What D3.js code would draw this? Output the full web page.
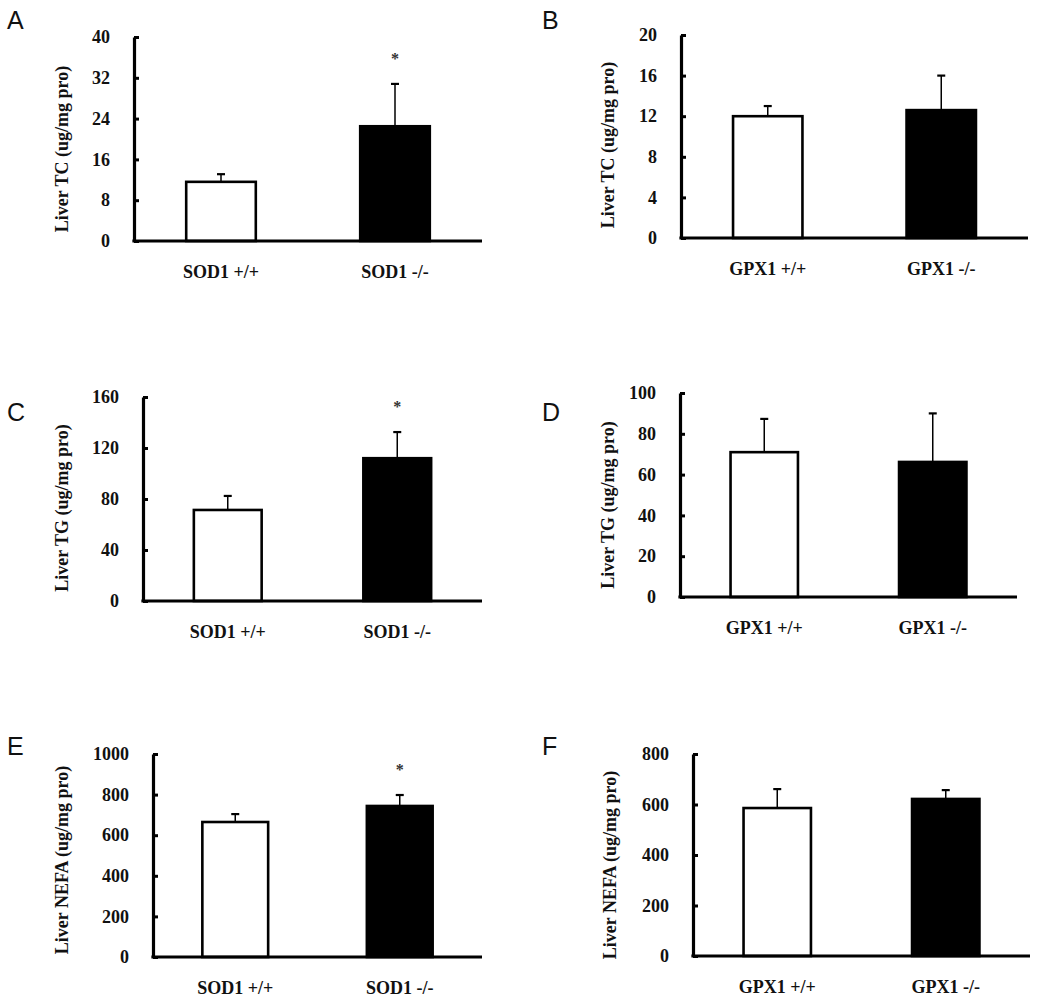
<!DOCTYPE html>
<html>
<head>
<meta charset="utf-8">
<script src="https://cdn.jsdelivr.net/npm/d3@7"></script>
<style>
  html, body { margin: 0; padding: 0; background: #fff; }
  svg { display: block; }
  .tick text { font-family: "Liberation Serif", "Times New Roman", serif; font-weight: bold; }
</style>
</head>
<body>
<svg id="chart" width="1050" height="1003"></svg>
<script>
// ---------- data ----------
const categoriesSOD = ["SOD1 +/+", "SOD1 -/-"];
const categoriesGPX = ["GPX1 +/+", "GPX1 -/-"];

const meansA = [11.6, 22.5];   const sdA = [1.5, 8.3];
const meansB = [12.0, 12.6];   const sdB = [1.0, 3.4];
const meansC = [71.4, 112];    const sdC = [11, 20.5];
const meansD = [71, 66.2];     const sdD = [16.3, 23.8];
const meansE = [665, 744];     const sdE = [39, 54];
const meansF = [586, 622];     const sdF = [75, 35];

const ticksA = [0, 8, 16, 24, 32, 40];
const ticksB = [0, 4, 8, 12, 16, 20];
const ticksC = [0, 40, 80, 120, 160];
const ticksD = [0, 20, 40, 60, 80, 100];
const ticksE = [0, 200, 400, 600, 800, 1000];
const ticksF = [0, 200, 400, 600, 800];

const starsA = [false, true];
const starsB = [false, false];
const starsC = [false, true];
const starsD = [false, false];
const starsE = [false, true];
const starsF = [false, false];

const titleTC = "Liver TC (ug/mg pro)";
const titleTG = "Liver TG (ug/mg pro)";
const titleNEFA = "Liver NEFA (ug/mg pro)";

const barFills = ["#ffffff", "#000000"];

// ---------- layout ----------
const panels = [
  { letter: "A", cats: categoriesSOD, means: meansA, sd: sdA, ticks: ticksA, stars: starsA, title: titleTC,
    x0: 134, x1: 482, yTop: 37, y0: 241, letterX: 7, letterY: 29, titleX: 62, titleY: 149 },
  { letter: "B", cats: categoriesGPX, means: meansB, sd: sdB, ticks: ticksB, stars: starsB, title: titleTC,
    x0: 681, x1: 1028, yTop: 35, y0: 238, letterX: 542, letterY: 29, titleX: 608, titleY: 145 },
  { letter: "C", cats: categoriesSOD, means: meansC, sd: sdC, ticks: ticksC, stars: starsC, title: titleTG,
    x0: 143, x1: 482, yTop: 397, y0: 601, letterX: 7, letterY: 421, titleX: 62, titleY: 508 },
  { letter: "D", cats: categoriesGPX, means: meansD, sd: sdD, ticks: ticksD, stars: starsD, title: titleTG,
    x0: 680, x1: 1017, yTop: 393, y0: 597, letterX: 542, letterY: 421, titleX: 608, titleY: 505 },
  { letter: "E", cats: categoriesSOD, means: meansE, sd: sdE, ticks: ticksE, stars: starsE, title: titleNEFA,
    x0: 153, x1: 482, yTop: 754, y0: 957, letterX: 7, letterY: 755, titleX: 62, titleY: 860 },
  { letter: "F", cats: categoriesGPX, means: meansF, sd: sdF, ticks: ticksF, stars: starsF, title: titleNEFA,
    x0: 693, x1: 1030, yTop: 754, y0: 956, letterX: 542, letterY: 755, titleX: 610, titleY: 865 }
];

const serif = '"Liberation Serif", "Times New Roman", serif';
const sans = '"Liberation Sans", Arial, sans-serif';

const svg = d3.select("#chart");

panels.forEach(p => {
  const g = svg.append("g");
  const yMax = p.ticks[p.ticks.length - 1];
  const y = d3.scaleLinear().domain([0, yMax]).range([p.y0, p.yTop]);
  const x = d3.scaleBand().domain(p.cats).range([p.x0, p.x1]).paddingInner(0.6).paddingOuter(0.3);

  const rows = p.cats.map((c, i) => ({ cat: c, mean: p.means[i], sd: p.sd[i], star: p.stars[i], fill: barFills[i] }));

  // bars
  g.selectAll("rect.bar").data(rows).join("rect")
    .attr("class", "bar")
    .attr("x", d => x(d.cat))
    .attr("width", x.bandwidth())
    .attr("y", d => y(d.mean))
    .attr("height", d => p.y0 - y(d.mean))
    .attr("fill", d => d.fill)
    .attr("stroke", "#000")
    .attr("stroke-width", 2.6);

  // error bars
  g.selectAll("line.err").data(rows).join("line")
    .attr("class", "err")
    .attr("x1", d => x(d.cat) + x.bandwidth() / 2)
    .attr("x2", d => x(d.cat) + x.bandwidth() / 2)
    .attr("y1", d => y(d.mean))
    .attr("y2", d => y(d.mean + d.sd))
    .attr("stroke", "#000")
    .attr("stroke-width", 1.5);
  g.selectAll("line.cap").data(rows).join("line")
    .attr("class", "cap")
    .attr("x1", d => x(d.cat) + x.bandwidth() / 2 - 4)
    .attr("x2", d => x(d.cat) + x.bandwidth() / 2 + 4)
    .attr("y1", d => y(d.mean + d.sd))
    .attr("y2", d => y(d.mean + d.sd))
    .attr("stroke", "#000")
    .attr("stroke-width", 2.2);

  // significance stars
  g.selectAll("text.star").data(rows.filter(d => d.star)).join("text")
    .attr("class", "star")
    .attr("x", d => x(d.cat) + x.bandwidth() / 2)
    .attr("y", d => y(d.mean + d.sd) - 29 + 9)
    .attr("text-anchor", "middle")
    .attr("font-family", serif)
    .attr("font-weight", "bold")
    .attr("font-size", 16)
    .attr("fill", "#333")
    .text("*");

  // y axis
  const yAxis = d3.axisLeft(y).tickValues(p.ticks).tickSizeInner(-5).tickSizeOuter(0).tickPadding(24)
    .tickFormat(d3.format("d"));
  const ya = g.append("g").attr("transform", `translate(${p.x0},0)`).call(yAxis);
  ya.select(".domain").attr("stroke", "#000").attr("stroke-width", 3.2);
  ya.selectAll(".tick line").attr("stroke", "#000").attr("stroke-width", 3);
  ya.selectAll(".tick text").attr("font-size", 18).attr("fill", "#111");

  // x axis
  const xAxis = d3.axisBottom(x).tickSize(0).tickPadding(24);
  const xa = g.append("g").attr("transform", `translate(0,${p.y0})`).call(xAxis);
  xa.select(".domain").attr("stroke", "#000").attr("stroke-width", 3.2)
    .attr("d", `M${p.x0 - 1.6},0H${p.x1}`);
  xa.selectAll(".tick text").attr("font-size", 18).attr("fill", "#111");

  // y title
  g.append("text")
    .attr("transform", `translate(${p.titleX},${p.titleY}) rotate(-90)`)
    .attr("text-anchor", "middle")
    .attr("dominant-baseline", "central")
    .attr("font-family", serif)
    .attr("font-weight", "bold")
    .attr("font-size", 18)
    .attr("fill", "#111")
    .text(p.title);

  // panel letter
  g.append("text")
    .attr("x", p.letterX)
    .attr("y", p.letterY)
    .attr("font-family", sans)
    .attr("font-size", 25)
    .attr("fill", "#111")
    .text(p.letter);
});
</script>
</body>
</html>
